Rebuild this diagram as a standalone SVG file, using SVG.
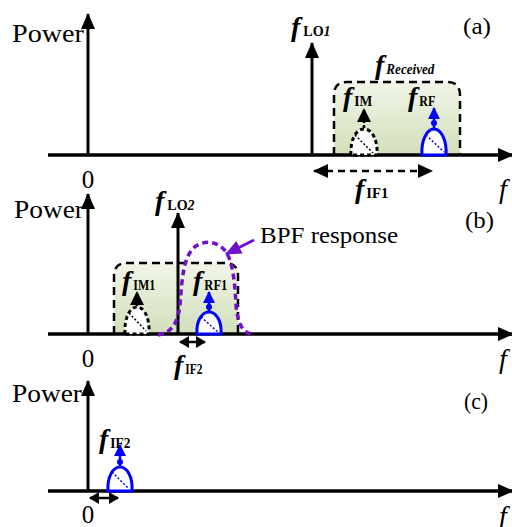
<svg xmlns="http://www.w3.org/2000/svg" width="512" height="527" viewBox="0 0 512 527">
<defs>
<linearGradient id="grn" x1="0" y1="0" x2="0" y2="1">
<stop offset="0" stop-color="#f1f5e8"/>
<stop offset="1" stop-color="#d2dfba"/>
</linearGradient>
<marker id="ah" markerUnits="userSpaceOnUse" markerWidth="16" markerHeight="14" refX="15" refY="7" orient="auto">
<path d="M0,0 L16,7 L0,14 Z" fill="#000"/>
</marker>
<marker id="ahs" markerUnits="userSpaceOnUse" markerWidth="10" markerHeight="12" refX="9" refY="6" orient="auto-start-reverse">
<path d="M0,0 L10,6 L0,12 Z" fill="#000"/>
</marker>
<marker id="ahd" markerUnits="userSpaceOnUse" markerWidth="15" markerHeight="14" refX="14" refY="7" orient="auto-start-reverse">
<path d="M0,0 L15,7 L0,14 Z" fill="#000"/>
</marker>
<marker id="ahb" markerUnits="userSpaceOnUse" markerWidth="12" markerHeight="12" refX="11" refY="6" orient="auto">
<path d="M0,0 L12,6 L0,12 Z" fill="#0000ff"/>
</marker>
<marker id="ahk" markerUnits="userSpaceOnUse" markerWidth="14" markerHeight="14" refX="13" refY="7" orient="auto">
<path d="M0,0 L14,7 L0,14 Z" fill="#000"/>
</marker>
<marker id="ahp" markerUnits="userSpaceOnUse" markerWidth="16" markerHeight="14" refX="15" refY="7" orient="auto">
<path d="M0,0 L16,7 L0,14 Z" fill="#7010c8"/>
</marker>
</defs>
<style>
.ax{stroke:#000;stroke-width:3.5;fill:none}
.vx{stroke:#000;stroke-width:3;fill:none}
.box{fill:url(#grn);stroke:#000;stroke-width:2.5;stroke-dasharray:8 5}
.bb{fill:#fff;stroke:#0000ff;stroke-width:3}
.bd{stroke:#0000ff;stroke-width:1.5;stroke-dasharray:2 2;fill:none}
.kb{fill:#fff;stroke:#000;stroke-width:3;stroke-dasharray:4 3}
.kd{stroke:#000;stroke-width:1.5;stroke-dasharray:2 2;fill:none}
.t{font-family:"Liberation Serif","Times New Roman",serif;fill:#000}
.pw{font-size:25px}
.f{font-size:28px;font-weight:bold;font-style:italic}
.s{font-size:14px;font-weight:bold}
.fx{font-size:28px;font-style:italic}
.pl{font-size:24px}
</style>

<!-- Panel (a) -->
<g id="panel-a-box">
<path class="box" d="M334,155 V95 Q334,82 347,82 H447 Q460,82 460,95 V155"/>
</g>
<g id="axes-a">
<line class="ax" x1="48" y1="155" x2="513" y2="155" marker-end="url(#ah)"/>
<line class="vx" x1="88" y1="155" x2="88" y2="14" marker-end="url(#ah)"/>
<text class="t pw" x="12" y="42" textLength="72" lengthAdjust="spacingAndGlyphs">Power</text>
<text class="t pw" x="88" y="188" text-anchor="middle">0</text>
<text class="t fx" x="499" y="198">f</text>
<text class="t pl" x="463" y="34" textLength="28" lengthAdjust="spacingAndGlyphs">(a)</text>
</g>
<g id="lo1">
<line class="vx" x1="312" y1="155" x2="312" y2="43" marker-end="url(#ah)"/>
<text class="t" x="291" y="36"><tspan class="f">f</tspan><tspan class="s" dx="3">LO</tspan><tspan class="s" font-style="italic">1</tspan></text>
</g>
<g id="received">
<text class="t" x="375" y="74"><tspan class="f">f</tspan><tspan class="s" font-style="italic" dx="2" textLength="48" lengthAdjust="spacingAndGlyphs">Received</tspan></text>
</g>
<g id="im">
<path class="kb" d="M351,155 C350,142 355,129 364,129 C373,129 378,142 377,155 Z"/>
<line class="kd" x1="355" y1="135" x2="373" y2="153"/>
<line x1="364" y1="128" x2="364" y2="109" stroke="#000" stroke-width="2.5" stroke-dasharray="3 2" marker-end="url(#ahk)"/>
<text class="t" x="343" y="106"><tspan class="f">f</tspan><tspan class="s" dx="2" textLength="18" lengthAdjust="spacingAndGlyphs">IM</tspan></text>
</g>
<g id="rf">
<path class="bb" d="M422,155 C421,140 427,129 434,129 C441,129 447,140 446,155 Z"/>
<line class="bd" x1="426" y1="135" x2="444" y2="152"/>
<line x1="434" y1="128" x2="434" y2="108" stroke="#0000ff" stroke-width="2.5" marker-end="url(#ahb)"/>
<circle cx="434" cy="123" r="3" fill="#0000ff"/>
<text class="t" x="408" y="106"><tspan class="f">f</tspan><tspan class="s" dx="2" textLength="16" lengthAdjust="spacingAndGlyphs">RF</tspan></text>
</g>
<g id="if1">
<line x1="314" y1="171" x2="432" y2="171" stroke="#000" stroke-width="2.5" stroke-dasharray="7 5" marker-start="url(#ahd)" marker-end="url(#ahd)"/>
<text class="t" x="355" y="198"><tspan class="f">f</tspan><tspan class="s" dx="2" textLength="22" lengthAdjust="spacingAndGlyphs">IF1</tspan></text>
</g>

<!-- Panel (b) -->
<g id="panel-b-box">
<path class="box" d="M114,334 V276 Q114,263 127,263 H225 Q238,263 238,276 V334"/>
</g>
<g id="axes-b">
<line class="ax" x1="48" y1="334" x2="513" y2="334" marker-end="url(#ah)"/>
<line class="vx" x1="88" y1="334" x2="88" y2="194" marker-end="url(#ah)"/>
<text class="t pw" x="14" y="218" textLength="70" lengthAdjust="spacingAndGlyphs">Power</text>
<text class="t pw" x="88" y="367" text-anchor="middle">0</text>
<text class="t fx" x="499" y="368">f</text>
<text class="t pl" x="465" y="228" textLength="29" lengthAdjust="spacingAndGlyphs">(b)</text>
</g>
<g id="lo2">
<line class="vx" x1="178" y1="334" x2="178" y2="213" marker-end="url(#ah)"/>
<text class="t" x="155" y="210"><tspan class="f">f</tspan><tspan class="s" dx="3">LO</tspan><tspan class="s" font-style="italic">2</tspan></text>
</g>
<g id="im1">
<path class="kb" d="M125,334 C124,320 129,307 137,307 C145,307 150,320 149,334 Z"/>
<line class="kd" x1="129" y1="313" x2="146" y2="331"/>
<line x1="137" y1="306" x2="137" y2="292" stroke="#000" stroke-width="2.5" stroke-dasharray="3 2" marker-end="url(#ahk)"/>
<text class="t" x="122" y="290"><tspan class="f">f</tspan><tspan class="s" dx="2" textLength="22" lengthAdjust="spacingAndGlyphs">IM1</tspan></text>
</g>
<g id="rf1">
<path class="bb" d="M197,334 C196,321 202,312 209,312 C216,312 222,321 221,334 Z"/>
<line class="bd" x1="201" y1="317" x2="218" y2="332"/>
<line x1="209" y1="311" x2="209" y2="292" stroke="#0000ff" stroke-width="2.5" marker-end="url(#ahb)"/>
<circle cx="209" cy="307" r="3" fill="#0000ff"/>
<text class="t" x="193" y="290"><tspan class="f">f</tspan><tspan class="s" dx="2" textLength="23" lengthAdjust="spacingAndGlyphs">RF1</tspan></text>
</g>
<g id="bpf">
<path d="M158,335 C172,333 178,322 180,305 C182,280 183,255 196,246 C205,240 218,241 226,252 C233,262 235,285 236,305 C238,325 243,333 252,334" fill="none" stroke="#7010c8" stroke-width="3.5" stroke-dasharray="6 4"/>
<text class="t" x="260" y="243" font-size="24" textLength="138" lengthAdjust="spacingAndGlyphs">BPF response</text>
</g>
<g id="if2b">
<line x1="180" y1="342" x2="205" y2="342" stroke="#000" stroke-width="2.5" marker-start="url(#ahs)" marker-end="url(#ahs)"/>
<text class="t" x="174" y="374"><tspan class="f">f</tspan><tspan class="s" dx="2" textLength="17" lengthAdjust="spacingAndGlyphs">IF2</tspan></text>
</g>

<!-- Panel (c) -->
<g id="axes-c">
<line class="ax" x1="48" y1="491" x2="513" y2="491" marker-end="url(#ah)"/>
<line class="vx" x1="88" y1="491" x2="88" y2="381" marker-end="url(#ah)"/>
<text class="t pw" x="12" y="402" textLength="70" lengthAdjust="spacingAndGlyphs">Power</text>
<text class="t pw" x="88" y="523" text-anchor="middle">0</text>
<text class="t fx" x="499" y="525">f</text>
<text class="t pl" x="464" y="409" textLength="24" lengthAdjust="spacingAndGlyphs">(c)</text>
</g>
<g id="if2c">
<path class="bb" d="M108,491 C107,477 113,467 120,467 C127,467 133,477 132,491 Z"/>
<line class="bd" x1="112" y1="472" x2="129" y2="489"/>
<line x1="120" y1="466" x2="120" y2="445" stroke="#0000ff" stroke-width="2.5" marker-end="url(#ahb)"/>
<circle cx="120" cy="462" r="3" fill="#0000ff"/>
<text class="t" x="99" y="448"><tspan class="f">f</tspan><tspan class="s" dx="2" textLength="20" lengthAdjust="spacingAndGlyphs">IF2</tspan></text>
</g>

<g id="connectors">
<line x1="254" y1="240" x2="226" y2="254" stroke="#7010c8" stroke-width="3" marker-end="url(#ahp)"/>
<line x1="90" y1="498" x2="118" y2="498" stroke="#000" stroke-width="2.5" marker-start="url(#ahs)" marker-end="url(#ahs)"/>
</g>
</svg>
